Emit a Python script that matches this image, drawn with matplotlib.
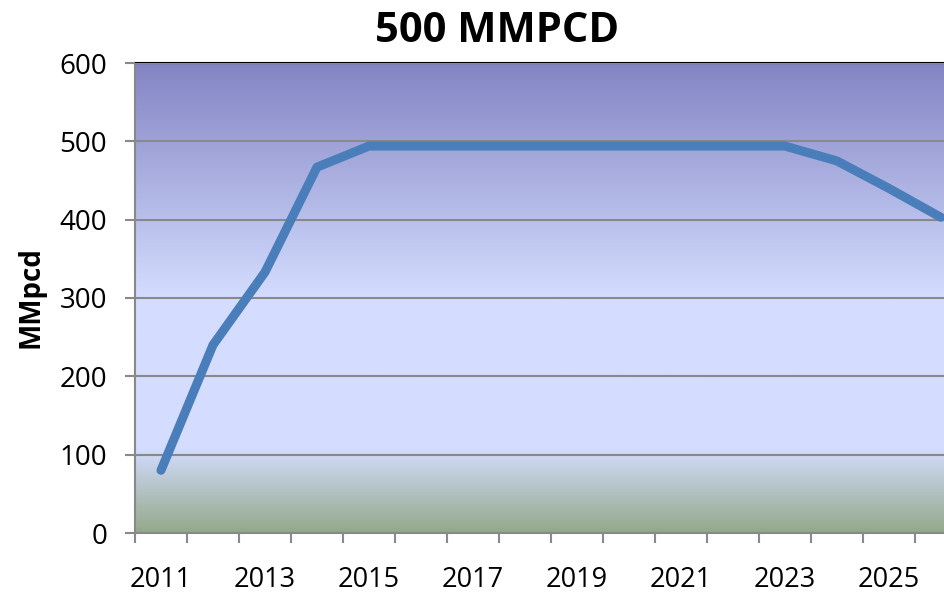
import matplotlib.pyplot as plt
import numpy as np
from matplotlib.colors import LinearSegmentedColormap

plt.rcParams['font.family'] = ['Open Sans', 'DejaVu Sans']

years = [2011, 2012, 2013, 2014, 2015, 2016, 2017, 2018, 2019, 2020,
         2021, 2022, 2023, 2024, 2025, 2026]
mmpcd = [80, 240, 333, 467, 494, 494, 494, 494, 494, 494,
         494, 494, 494, 475, 440, 403]
yticks = [0, 100, 200, 300, 400, 500, 600]

fig = plt.figure(figsize=(9.45, 5.95), dpi=100)
ax = fig.add_axes([135/945, 62/595, 810/945, 470/595])

# background gradient (top -> bottom)
cmap = LinearSegmentedColormap.from_list('bg', [
    (0.0, '#8385c3'), (0.5, '#d4ddff'), (0.82, '#d4ddff'), (1.0, '#93a98b')])
grad = np.linspace(0, 1, 256).reshape(-1, 1)
ax.imshow(grad, cmap=cmap, aspect='auto', extent=(-0.5, 15.08, 0, 600),
          origin='upper', zorder=0)

x = np.arange(len(years))
ax.plot(x, mmpcd, color='#4a7ebb', lw=6.5, solid_capstyle='round',
        solid_joinstyle='round', zorder=3, clip_on=False)

ax.set_xlim(-0.5, 15.08)
ax.set_ylim(0, 600)
ax.set_yticks(yticks)
ax.yaxis.grid(True, color='#898989', lw=1.5, zorder=1)
ax.set_axisbelow(False)

ax.set_xticks(x[::2])
ax.set_xticklabels([str(y) for y in years[::2]])
ax.set_xticks(np.arange(-0.5, 15.1, 1), minor=True)
ax.tick_params(axis='x', which='major', length=0, pad=24, labelsize=19.5)
ax.tick_params(axis='x', which='minor', length=7, width=1.5, color='#898989')
ax.tick_params(axis='y', length=7, width=1.5, color='#898989', labelsize=20, pad=13)

for s in ['left', 'bottom']:
    ax.spines[s].set_color('#898989')
    ax.spines[s].set_linewidth(1.5)
ax.spines['top'].set_color('black')
ax.spines['top'].set_linewidth(1.5)
ax.spines['right'].set_visible(False)

ax.set_ylabel('MMpcd', fontsize=20, fontweight='bold')
ax.yaxis.set_label_coords(-0.111, 0.502)
fig.text(497/945, 1 - 31/595, '500 MMPCD', fontsize=30, fontweight='bold',
         ha='center', va='center')

fig.savefig('out.png', dpi=100)
